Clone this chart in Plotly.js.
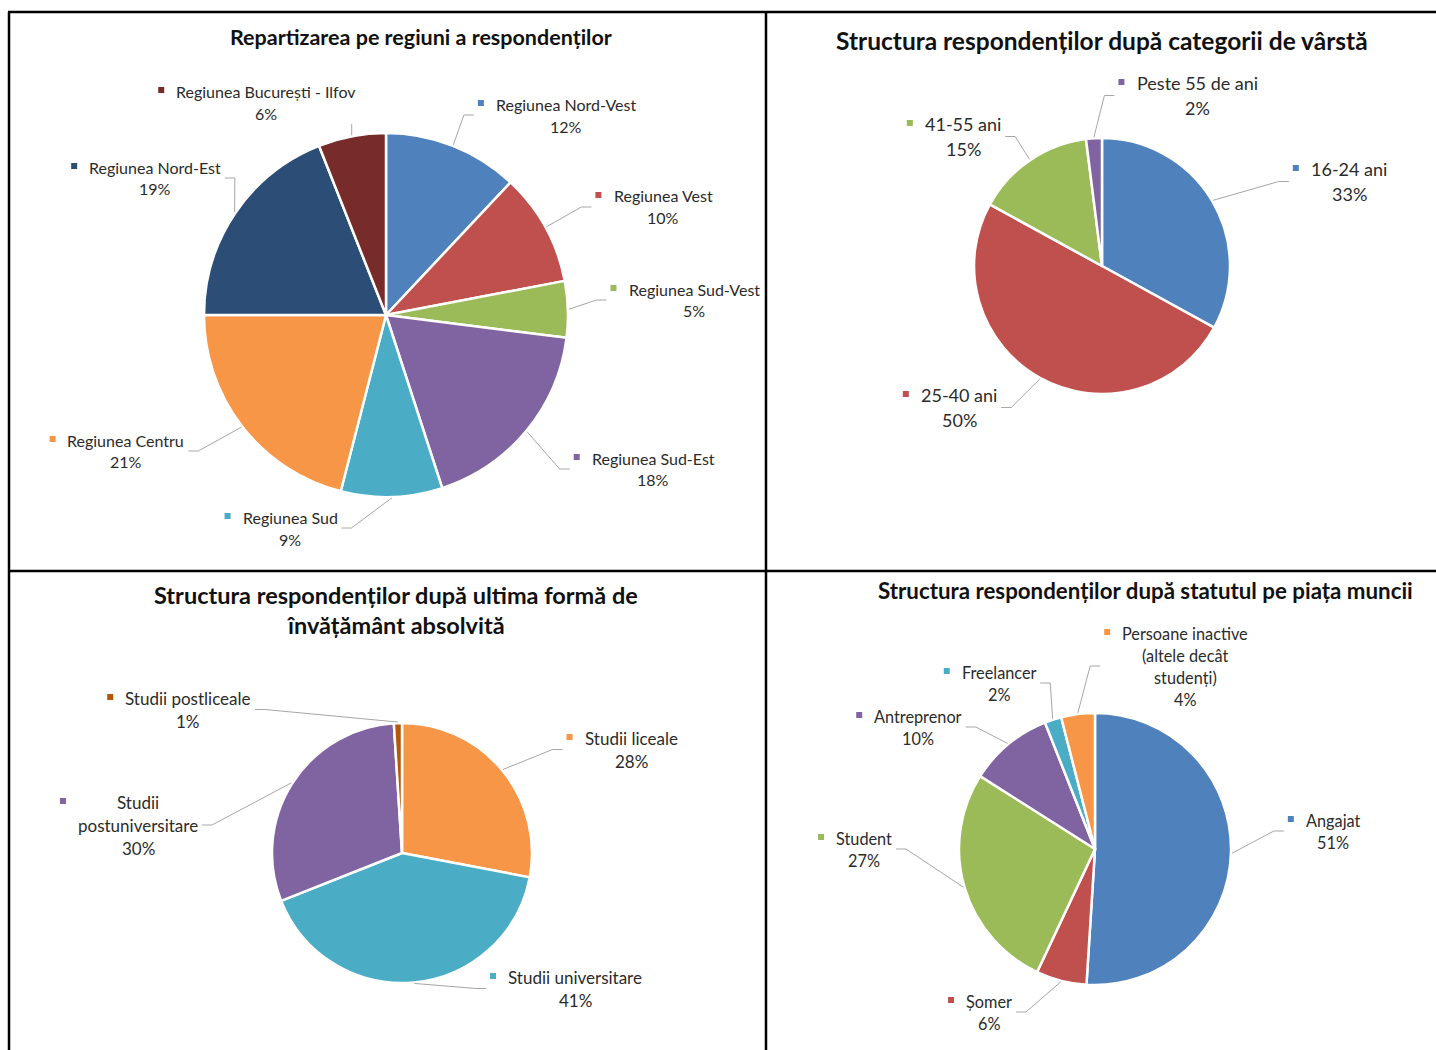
<!DOCTYPE html>
<html><head><meta charset="utf-8">
<script src="https://cdn.plot.ly/plotly-3.0.1.min.js"></script>
<style>html,body{margin:0;padding:0;background:#fff}#chart{width:1436px;height:1050px}</style>
</head><body><div id="chart"></div>
<script>
// ---------------- DATA ----------------
const regionLabels = ["Regiunea Nord-Vest","Regiunea Vest","Regiunea Sud-Vest","Regiunea Sud-Est","Regiunea Sud","Regiunea Centru","Regiunea Nord-Est","Regiunea București - Ilfov"];
const regionValues = [12,10,5,18,9,21,19,6];

const ageLabels = ["16-24 ani","25-40 ani","41-55 ani","Peste 55 de ani"];
const ageValues = [33,50,15,2];

const eduLabels = ["Studii liceale","Studii universitare","Studii<br>postuniversitare","Studii postliceale"];
const eduValues = [28,41,30,1];

const workLabels = ["Angajat","Șomer","Student","Antreprenor","Freelancer","Persoane inactive<br>(altele decât<br>studenți)"];
const workValues = [51,6,27,10,2,4];

// ---------------- STYLE / LAYOUT ----------------
const regionColors = ['#4F81BD','#C0504D','#9BBB59','#8064A2','#4BACC6','#F79646','#2C4D75','#772C2A'];
const ageColors = ['#4F81BD','#C0504D','#9BBB59','#8064A2'];
const eduColors = ['#F79646','#4BACC6','#8064A2','#B65708'];
const workColors = ['#4F81BD','#C0504D','#9BBB59','#8064A2','#4BACC6','#F79646'];

const W = 1436, H = 1050;
const FONT = 'Lato, "Open Sans", sans-serif';
const TEXT_COLOR = '#2b2b2b';

// pie placement (center, radius in px) and manual data-label placement (offset of label from pie center, like Excel's dragged labels)
const charts = [
  {labels: regionLabels, values: regionValues, colors: regionColors, cx: 386, cy: 315, r: 182, font: 16, gap: 22,
   title: ["Repartizarea pe regiuni a respondenților"], titleX: 421, titleY: 37, titleSize: 21.5, titleGap: 30,
   labelPos: [[180,-211],[277,-119],[308,-26],[267,143],[-96,202],[-260,125],[-231,-148],[-120,-224]]},
  {labels: ageLabels, values: ageValues, colors: ageColors, cx: 1102, cy: 266, r: 128, font: 18, gap: 25,
   title: ["Structura respondenților după categorii de vârstă"], titleX: 1102, titleY: 41, titleSize: 24.5, titleGap: 30,
   labelPos: [[247,-97],[-143,129],[-139,-142],[95,-183]]},
  {labels: eduLabels, values: eduValues, colors: eduColors, cx: 402, cy: 853, r: 130, font: 17, gap: 23,
   title: ["Structura respondenților după ultima formă de","învățământ absolvită"], titleX: 396, titleY: 595, titleSize: 23.5, titleGap: 30,
   labelPos: [[229,-115],[173,124],[-264,-51],[-214,-155]]},
  {labels: workLabels, values: workValues, colors: workColors, cx: 1095, cy: 849, r: 136, font: 16.3, gap: 22,
   title: ["Structura respondenților după statutul pe piața muncii"], titleX: 1145, titleY: 590, titleSize: 22.3, titleGap: 30,
   labelPos: [[238,-29],[-106,152],[-231,-11],[-177,-133],[-96,-177],[90,-216]]}
];

// ---------------- BUILD ----------------
const canvas = document.createElement('canvas');
const ctx = canvas.getContext('2d');
function measure(t, size, bold) {
  ctx.font = (bold ? 'bold ' : '') + size + 'px ' + FONT;
  return ctx.measureText(t.replace(/<[^>]+>/g,'')).width;
}
const px = x => x / W;
const py = y => 1 - y / H;

const traces = [], annotations = [], shapes = [];

charts.forEach(c => {
  traces.push({
    type: 'pie', values: c.values, labels: c.labels.map(l => l.replace(/<br>/g,' ')),
    sort: false, direction: 'clockwise', rotation: 0,
    textinfo: 'none', hoverinfo: 'none',
    marker: {colors: c.colors, line: {color: '#FFFFFF', width: 2.5}},
    domain: {x: [px(c.cx - c.r), px(c.cx + c.r)], y: [py(c.cy + c.r), py(c.cy - c.r)]}
  });

  // title
  c.title.forEach((t, i) => {
    annotations.push({xref:'paper', yref:'paper', x: px(c.titleX), y: py(c.titleY + i * c.titleGap),
      xanchor:'center', yanchor:'middle', showarrow:false, text: '<b>' + t + '</b>',
      font: {family: FONT, size: c.titleSize, color: '#111111'}});
  });

  const total = c.values.reduce((a, b) => a + b, 0);
  let cum = 0;
  c.values.forEach((v, i) => {
    const theta = 2 * Math.PI * (cum + v / 2) / total;
    cum += v;
    const p0x = c.cx + (c.r + 1) * Math.sin(theta);
    const p0y = c.cy - (c.r + 1) * Math.cos(theta);

    const pct = Math.round(v / total * 100) + '%';
    const lines = c.labels[i].split('<br>').concat([pct]);
    const w = Math.max(...lines.map(t => measure(t, c.font)));
    const tcx = c.cx + c.labelPos[i][0];
    const y1 = c.cy + c.labelPos[i][1];
    const textL = tcx - w / 2, textR = tcx + w / 2;
    const boxL = textL - 22, boxR = textR + 4;
    const boxT = y1 - c.gap / 2, boxB = y1 + (lines.length - 1) * c.gap + c.gap / 2;
    const midY = (boxT + boxB) / 2;

    lines.forEach((t, k) => {
      annotations.push({xref:'paper', yref:'paper', x: px(tcx), y: py(y1 + k * c.gap),
        xanchor:'center', yanchor:'middle', showarrow:false, text: t,
        font: {family: FONT, size: c.font, color: TEXT_COLOR}});
    });

    // legend key square
    const sx = textL - 15, sy = y1 - 1, s = 3;
    shapes.push({type:'rect', xref:'paper', yref:'paper', x0: px(sx - s), x1: px(sx + s), y0: py(sy + s), y1: py(sy - s),
      fillcolor: c.colors[i], line: {width: 0}});

    // leader line
    let pts;
    if (p0x < boxL) pts = [[p0x, p0y], [boxL - 10, midY], [boxL, midY]];
    else if (p0x > boxR) pts = [[p0x, p0y], [boxR + 10, midY], [boxR, midY]];
    else if (p0y > boxB) pts = [[p0x, p0y], [p0x, boxB]];
    else pts = [[p0x, p0y], [p0x, boxT]];
    const path = pts.map((p, k) => (k ? 'L' : 'M') + px(p[0]).toFixed(5) + ',' + py(p[1]).toFixed(5)).join(' ');
    shapes.push({type:'path', xref:'paper', yref:'paper', path: path, line: {color:'#A6A6A6', width: 1}});
  });
});

// panel borders
const border = {color:'#000000', width: 2.5};
shapes.push({type:'line', xref:'paper', yref:'paper', x0: px(8), x1: 1, y0: py(12), y1: py(12), line: border});
shapes.push({type:'line', xref:'paper', yref:'paper', x0: px(9), x1: px(9), y0: py(12), y1: 0, line: border});
shapes.push({type:'line', xref:'paper', yref:'paper', x0: px(766), x1: px(766), y0: py(12), y1: 0, line: border});
shapes.push({type:'line', xref:'paper', yref:'paper', x0: px(8), x1: 1, y0: py(571), y1: py(571), line: border});

Plotly.newPlot('chart', traces, {
  width: W, height: H, margin: {l:0, r:0, t:0, b:0},
  paper_bgcolor: '#FFFFFF', plot_bgcolor: '#FFFFFF', showlegend: false,
  annotations: annotations, shapes: shapes
}, {displayModeBar: false, staticPlot: true});
</script>
</body></html>
